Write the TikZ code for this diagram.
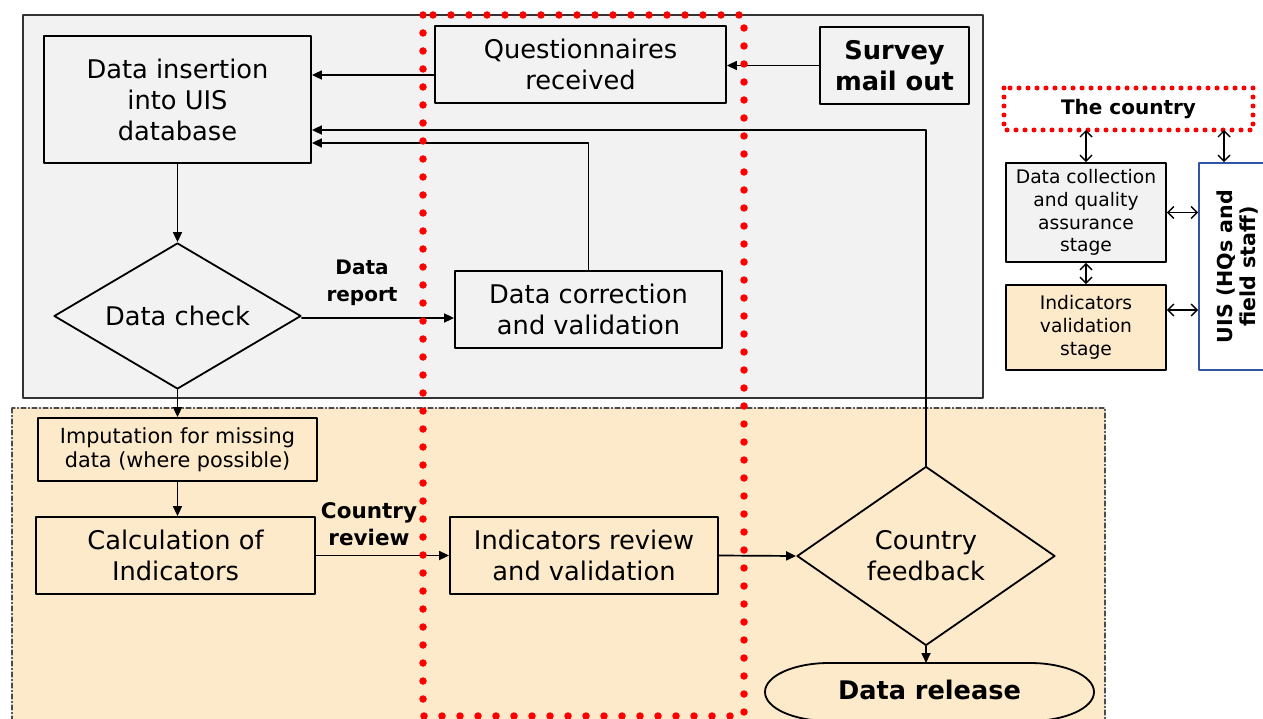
\documentclass[tikz,border=0pt]{standalone}
\usepackage{fontspec}
\setmainfont{DejaVu Sans}
\usetikzlibrary{arrows.meta,shapes.geometric}
\usepackage{color}
\definecolor{boxgray}{RGB}{242,242,242}
\definecolor{beige}{RGB}{253,234,203}
\definecolor{uisblue}{RGB}{47,85,165}

\begin{document}
\begin{tikzpicture}[line cap=round,line join=round,>={Triangle[length=10pt,width=9pt]},x=1pt,y=-1pt,
    box/.style={draw,line width=1.8pt,inner sep=0pt,align=center,font=\fontsize{25.7}{31}\selectfont},
    leg/.style={draw,line width=1.8pt,inner sep=0pt,align=center,font=\fontsize{18.7}{22.7}\selectfont},
    lbl/.style={align=center,inner sep=0pt,font=\bfseries\fontsize{20}{27}\selectfont},
    flow/.style={->,line width=1.7pt},
    dbl/.style={{Straight Barb[length=6pt,width=12pt]}-{Straight Barb[length=6pt,width=12pt]},line width=1.4pt},
    dots/.style={draw=red,line width=7.5pt,dash pattern=on 0pt off 18pt,line cap=round}]
    \useasboundingbox (0,0) rectangle (1263,719);
    \clip (0,0) rectangle (1263,719);
    % stage areas
    \draw[fill=boxgray,line width=1.5pt,draw=black!80] (23,15) rectangle (983,398);
    \draw[fill=beige,line width=1.1pt,draw=black!70,dash pattern=on 5pt off 2.5pt on 1pt off 2.5pt] (12,408) rectangle (1105,730);
    % data collection stage
    \node[box,fill=boxgray,minimum width=267pt,minimum height=127pt] (ins) at (177.5,99.5) {Data insertion\\into UIS\\database};
    \node[box,fill=boxgray,minimum width=291pt,minimum height=77pt] (quest) at (580.5,64.5) {Questionnaires\\received};
    \node[box,fill=boxgray,minimum width=149pt,minimum height=77pt,font=\fontsize{25.7}{31}\selectfont\bfseries] (survey) at (894.5,65.5) {Survey\\mail out};
    \node[box,diamond,aspect=1.7,fill=boxgray,minimum width=247pt,minimum height=146pt] (check) at (177.5,316) {Data check};
    \node[box,fill=boxgray,minimum width=267pt,minimum height=77pt] (corr) at (588.5,309.5) {Data correction\\and validation};
    \node[lbl] (rep) at (362,283) {Data\\report};
    % indicators stage
    \node[box,fill=beige,minimum width=279pt,minimum height=63pt,font=\fontsize{20.8}{24}\selectfont] (imp) at (177.5,449.5) {Imputation for missing\\data (where possible)};
    \node[box,fill=beige,minimum width=279pt,minimum height=77pt] (calc) at (175.5,555.5) {Calculation of\\Indicators};
    \node[box,fill=beige,minimum width=268pt,minimum height=77pt] (rev) at (584,555.5) {Indicators review\\and validation};
    \node[lbl,font=\bfseries\fontsize{21.5}{27}\selectfont] (crev) at (369,524) {Country\\review};
    \node[box,diamond,aspect=1.44,fill=beige,minimum width=258pt,minimum height=179pt] (fb) at (926,556) {Country\\feedback};
    \draw[line width=1.8pt,fill=beige] (829,663) -- (1030,663) arc[start angle=90,end angle=-90,x radius=64pt,y radius=29pt]
        -- (829,721) arc[start angle=270,end angle=90,x radius=64pt,y radius=29pt] -- cycle;
    \node[inner sep=0pt,minimum width=329pt,minimum height=58pt,font=\bfseries\fontsize{25.6}{31}\selectfont] (release) at (929.5,690) {Data release};
    % flow
    \draw[flow] (survey.west) -- (survey.west -| quest.east);
    \draw[flow] (quest.west |- 0,75) -- (ins.east |- 0,75);
    \draw[flow] (fb.north) |- (ins.east |- 0,130);
    \draw[flow] (corr.north) |- (ins.east |- 0,143);
    \draw[flow] (ins.south) -- (check.north);
    \draw[flow] (check.east |- 0,318) -- (corr.west |- 0,318);
    \draw[flow] (check.south) -- (imp.north);
    \draw[flow] (imp.south) -- (imp.south |- calc.north);
    \draw[flow] (calc.east) -- (rev.west);
    \draw[flow] (rev.east) -- (fb.west);
    \draw[flow] (fb.south) -- (fb.south |- 0,663);
    % country side
    \draw[dots] (423,15) rectangle (744,716);
    % legend
    \draw[dots,line width=5pt,dash pattern=on 0pt off 9pt] (1004,88) rectangle (1253,130);
    \node[inner sep=0pt,font=\bfseries\fontsize{20}{24}\selectfont] (country) at (1128.5,109) {The country};
    \node[leg,fill=boxgray,minimum width=160pt,minimum height=99pt] (dcq) at (1086,212.5) {Data collection\\and quality\\assurance\\stage};
    \node[leg,fill=beige,minimum width=160pt,minimum height=85pt] (ivs) at (1086,327.5) {Indicators\\validation\\stage};
    \node[draw=uisblue,fill=white,line width=1.8pt,minimum width=95pt,minimum height=207pt] (uis) at (1246.5,266.5) {};
    \node[rotate=90,align=center,inner sep=0pt,font=\bfseries\fontsize{20.6}{23}\selectfont] (uislbl) at (1237.5,266.5) {UIS (HQs and\\field staff)};
    \coordinate (cu) at (1224,0);
    \draw[dbl] (dcq.north |- 0,130) -- (dcq.north);
    \draw[dbl] (cu |- 0,130) -- (cu |- uis.north);
    \draw[dbl] (dcq.east) -- (dcq.east -| uis.west);
    \draw[dbl] (dcq.south) -- (ivs.north);
    \draw[dbl] (ivs.east |- 0,310) -- (uis.west |- 0,310);
\end{tikzpicture}
\end{document}
